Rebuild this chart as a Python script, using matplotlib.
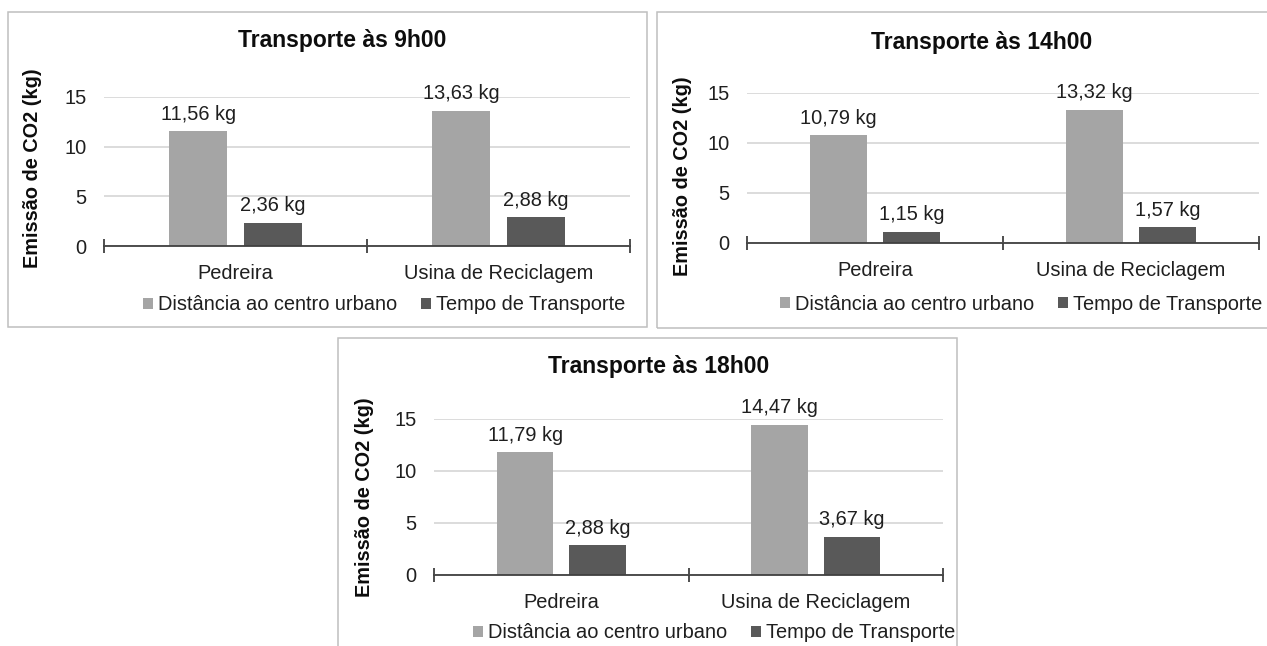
import matplotlib
matplotlib.use("Agg")
import matplotlib.pyplot as plt
from matplotlib.patches import Rectangle, Patch
import numpy as np

plt.rcParams['font.family'] = ['Liberation Sans', 'DejaVu Sans']

categories = ["Pedreira", "Usina de Reciclagem"]
series_names = ["Distância ao centro urbano", "Tempo de Transporte"]
titles = ["Transporte às 9h00", "Transporte às 14h00", "Transporte às 18h00"]
dist_9h = [11.56, 13.63]
tempo_9h = [2.36, 2.88]
dist_14h = [10.79, 13.32]
tempo_14h = [1.15, 1.57]
dist_18h = [11.79, 14.47]
tempo_18h = [2.88, 3.67]
yticks = [0, 5, 10, 15]
ylabel = "Emissão de CO2 (kg)"

W, H = 1267, 646
fig = plt.figure(figsize=(W / 100, H / 100), dpi=100)
fig.patch.set_facecolor("white")

def fx(x):
    return x / W

def fy(y):
    return 1 - y / H

LIGHT = "#a5a5a5"
DARK = "#595959"
TXT = "#1f1f1f"
FS = 14.4

panels = [
    dict(border=(8, 12, 647, 327), ax=(104, 630, 97, 246), title=(342, 40), ylab=(33, 168),
         leg=(384, 305), dist=dist_9h, tempo=tempo_9h, t=titles[0]),
    dict(border=(657, 12, 1280, 328), ax=(747, 1259, 93, 243), title=(982, 42), ylab=(682, 176),
         leg=(1021, 304), dist=dist_14h, tempo=tempo_14h, t=titles[1]),
    dict(border=(338, 338, 957, 660), ax=(434, 943, 419, 575), title=(659, 367), ylab=(365, 497),
         leg=(714, 633), dist=dist_18h, tempo=tempo_18h, t=titles[2]),
]

for p in panels:
    x0, y0, x1, y1 = p["border"]
    fig.patches.append(Rectangle((fx(x0), fy(y1)), fx(x1 - x0), (y1 - y0) / H,
                                 transform=fig.transFigure, facecolor="none",
                                 edgecolor="#bfbfbf", linewidth=1.1, zorder=-10))

for p in panels:
    l, r, t, b = p["ax"]
    ax = fig.add_axes([fx(l), fy(b), fx(r - l), (b - t) / H])
    ax.set_facecolor("none")
    x = np.arange(len(categories))
    w = 0.222
    off = 0.142
    b1 = ax.bar(x - off, p["dist"], w, color=LIGHT, zorder=3)
    b2 = ax.bar(x + off, p["tempo"], w, color=DARK, zorder=3)
    for bars, vals in ((b1, p["dist"]), (b2, p["tempo"])):
        for bar, v in zip(bars, vals):
            ax.annotate(f"{v:.2f}".replace(".", ",") + " kg",
                        (bar.get_x() + bar.get_width() / 2, v),
                        xytext=(0, 8.3), textcoords="offset points",
                        ha="center", va="baseline", fontsize=FS, color=TXT,
                        annotation_clip=False)
    ax.set_xlim(-0.5, len(categories) - 0.5)
    ax.set_ylim(0, 15)
    ax.set_yticks(yticks)
    ax.set_yticklabels([str(v) for v in yticks], fontsize=FS, color=TXT)
    ax.tick_params(axis="y", length=0, pad=12.5)
    ax.grid(axis="y", color="#d9d9d9", linewidth=1.3, zorder=0)
    ax.set_axisbelow(True)
    for s in ("top", "right", "left"):
        ax.spines[s].set_visible(False)
    ax.spines["bottom"].set_color("#404040")
    ax.spines["bottom"].set_linewidth(1.3)
    ax.spines["bottom"].set_zorder(4)
    ax.set_xticks(x)
    ax.set_xticklabels(categories, fontsize=FS, color=TXT)
    ax.tick_params(axis="x", which="major", length=0, pad=13)
    ax.set_xticks([-0.5, 0.5, 1.5], minor=True)
    ax.tick_params(axis="x", which="minor", length=10, direction="inout",
                   width=1.3, color="#404040")

    fig.text(fx(p["title"][0]), fy(p["title"][1]), p["t"], ha="center", va="center",
             fontsize=16.5, fontweight="bold", color="#0d0d0d")
    fig.text(fx(p["ylab"][0]), fy(p["ylab"][1]), ylabel, ha="center", va="center",
             rotation=90, fontsize=14.3, fontweight="bold", color="#0d0d0d")

    handles = [Patch(facecolor=LIGHT, edgecolor="none"), Patch(facecolor=DARK, edgecolor="none")]
    ax.legend(handles, series_names, loc="center",
              bbox_to_anchor=(fx(p["leg"][0]), fy(p["leg"][1])),
              bbox_transform=fig.transFigure, ncol=2, frameon=False,
              fontsize=FS, handlelength=0.5, handleheight=0.5,
              handletextpad=0.25, columnspacing=1.2, borderpad=0,
              labelcolor=TXT)

fig.savefig("out.png", dpi=100, facecolor="white")
